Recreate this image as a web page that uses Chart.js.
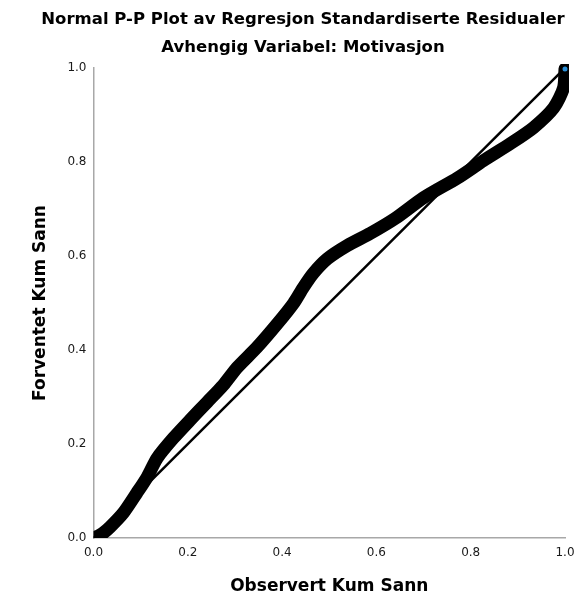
<!DOCTYPE html>
<html>
<head>
<meta charset="utf-8">
<script src="https://cdn.jsdelivr.net/npm/chart.js@4"></script>
<style>
    html, body { margin: 0; padding: 0; background: #fff; }
    #wrap { width: 576px; height: 601px; }
</style>
</head>
<body>
<div id="wrap"><canvas id="c"></canvas></div>
<script>
const observed = [0.0, 0.01, 0.02, 0.035, 0.063, 0.092, 0.114, 0.135, 0.169, 0.205, 0.241, 0.275,
    0.305, 0.347, 0.390, 0.424, 0.445, 0.466, 0.496, 0.538, 0.587, 0.640, 0.700, 0.772, 0.827,
    0.884, 0.933, 0.976, 0.997, 1.0];
const expected = [0.0, 0.004, 0.01, 0.023, 0.053, 0.096, 0.130, 0.170, 0.212, 0.251, 0.289, 0.325,
    0.363, 0.406, 0.456, 0.499, 0.533, 0.563, 0.594, 0.622, 0.648, 0.680, 0.724, 0.766, 0.803,
    0.839, 0.873, 0.915, 0.958, 0.998];
const diagonal = [0, 1];
const tickValues = [0, 0.2, 0.4, 0.6, 0.8, 1.0];

const titleLines = ['Normal P-P Plot av Regresjon Standardiserte Residualer', 'Avhengig Variabel: Motivasjon'];
const xTitle = 'Observert Kum Sann';
const yTitle = 'Forventet Kum Sann';

const FONT = "'DejaVu Sans', sans-serif";
const axisGrey = '#a8a8a8';

const bandPoints = observed.map((x, i) => ({ x: x, y: expected[i] }));
const linePoints = diagonal.map(v => ({ x: v, y: v }));

const axisBase = {
    type: 'linear',
    min: 0,
    max: 1,
    afterBuildTicks: (scale) => { scale.ticks = tickValues.map(v => ({ value: v })); },
    grid: { display: false, drawTicks: false },
    border: { display: true, color: axisGrey, width: 1.5 },
    ticks: {
        color: '#1a1a1a',
        font: { family: FONT, size: 12 },
        callback: (val) => Number(val).toFixed(1)
    }
};

new Chart(document.getElementById('c'), {
    type: 'scatter',
    data: {
        datasets: [
            {
                label: 'Reference',
                data: linePoints,
                showLine: true,
                borderColor: '#000',
                borderWidth: 2.5,
                pointRadius: 0,
                order: 2
            },
            {
                label: 'Residualer',
                data: bandPoints,
                showLine: true,
                borderColor: '#000',
                borderWidth: 13,
                borderCapStyle: 'round',
                borderJoinStyle: 'round',
                tension: 0.25,
                pointRadius: (ctx) => ctx.dataIndex === bandPoints.length - 1 ? 2.5 : 0,
                pointBackgroundColor: '#2a8fd8',
                pointBorderWidth: 0,
                clip: { left: 0, bottom: 0, top: 4, right: 4 },
                order: 1
            }
        ]
    },
    options: {
        responsive: true,
        maintainAspectRatio: false,
        animation: false,
        layout: { padding: { left: 30, right: 0, top: 0, bottom: 0 } },
        plugins: {
            legend: { display: false },
            tooltip: { enabled: false },
            title: {
                display: true,
                text: titleLines,
                color: '#000',
                font: { family: FONT, size: 16.5, weight: 'bold', lineHeight: '28px' },
                padding: { top: 6, bottom: 6 }
            }
        },
        scales: {
            x: {
                ...axisBase,
                ticks: { ...axisBase.ticks, padding: 8, maxRotation: 0 },
                title: {
                    display: true,
                    text: xTitle,
                    color: '#000',
                    font: { family: FONT, size: 17, weight: 'bold' },
                    padding: { top: 4, bottom: 4 }
                },
                afterFit: (scale) => {
                    scale.height = 63;
                    scale.paddingRight = 11;
                }
            },
            y: {
                ...axisBase,
                ticks: { ...axisBase.ticks, padding: 7 },
                title: {
                    display: true,
                    text: yTitle,
                    color: '#000',
                    font: { family: FONT, size: 17, weight: 'bold' },
                    padding: { top: 0, bottom: 4 }
                },
                afterFit: (scale) => { scale.width = 63.5; }
            }
        }
    }
});
</script>
</body>
</html>
